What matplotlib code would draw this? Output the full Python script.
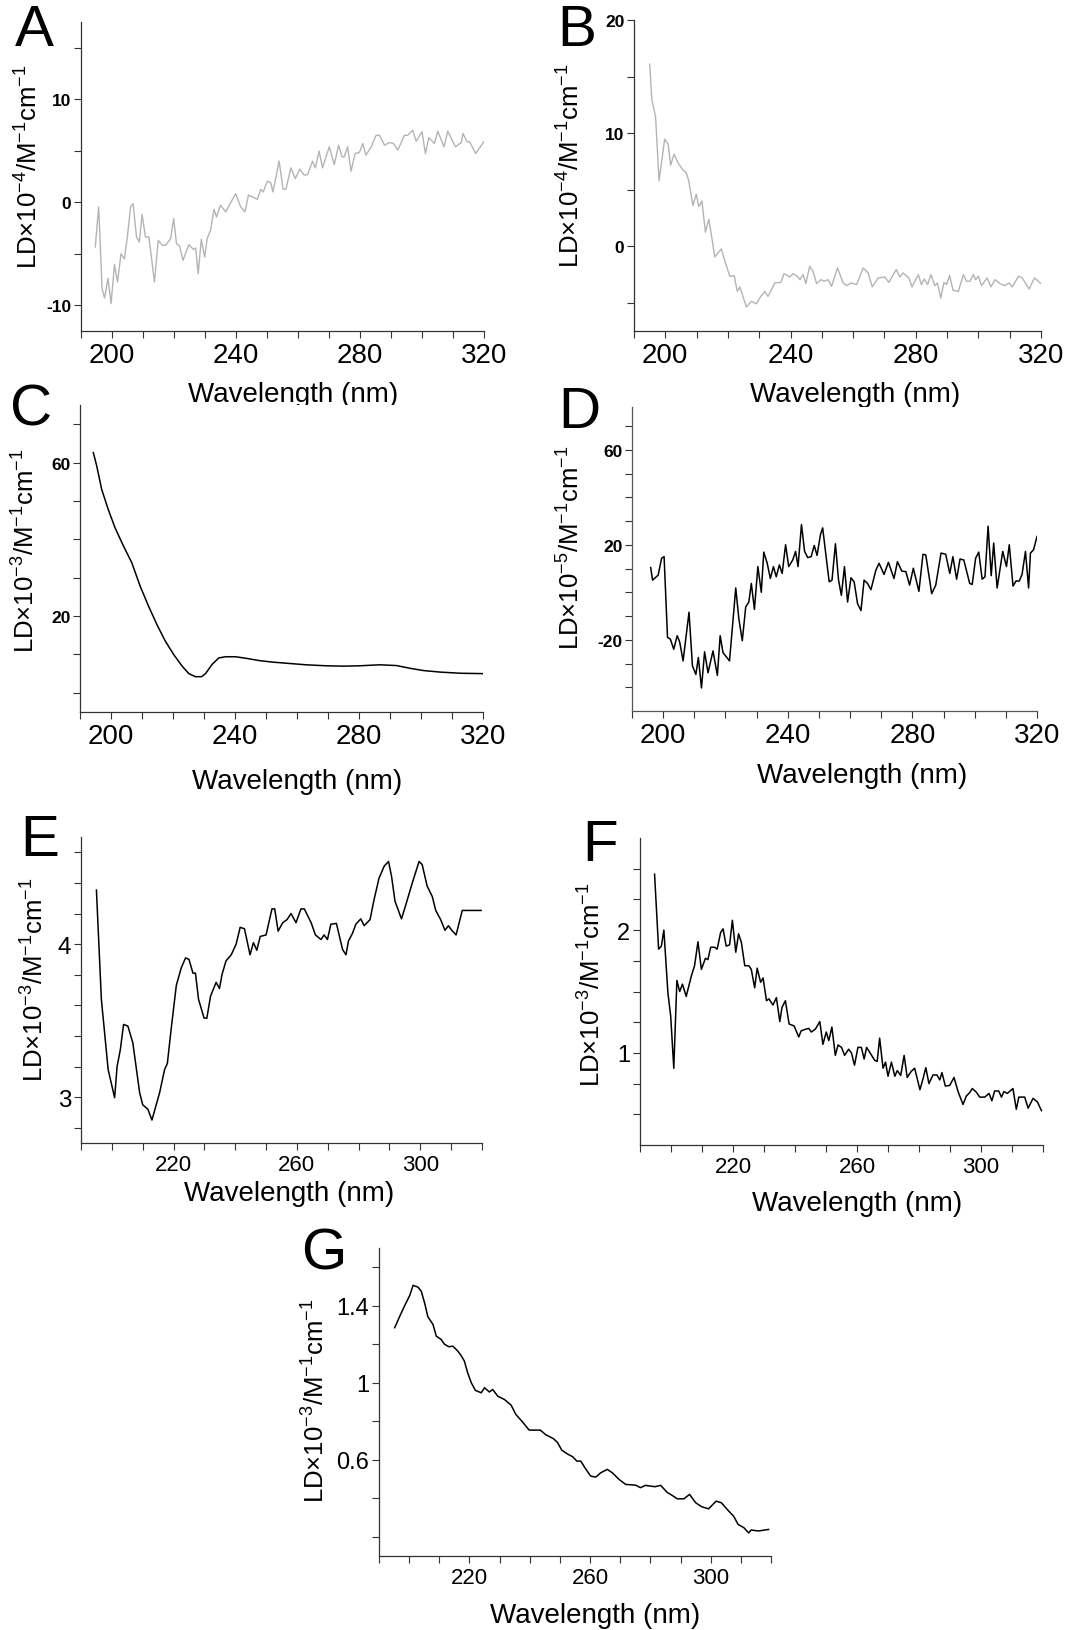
import matplotlib
matplotlib.use("Agg")
import matplotlib.pyplot as plt
from matplotlib.ticker import FixedLocator, FixedFormatter

plt.rcParams['font.family'] = ['Liberation Sans', 'DejaVu Sans']
plt.rcParams['mathtext.fontset'] = 'custom'
plt.rcParams['mathtext.rm'] = 'Liberation Sans'
plt.rcParams['mathtext.it'] = 'Liberation Sans'
plt.rcParams['mathtext.default'] = 'regular'

# ---------------- data ----------------
wl_A = [194.6, 195.7, 196.8, 197.6, 198.7, 199.7, 200.8, 201.8, 202.9, 204.0, 204.9, 206.0, 206.8, 207.9,
        208.8, 209.7, 210.8, 211.9, 213.7, 214.9, 216.2, 217.3, 218.9, 219.9, 220.8, 221.8, 222.9, 224.8,
        226.2, 227.0, 227.8, 228.8, 229.9, 230.7, 231.8, 232.9, 233.7, 235.0, 236.7, 238.3, 239.9, 241.5,
        242.9, 244.0, 245.3, 246.9, 248.0, 248.8, 250.1, 251.2, 251.9, 252.8, 253.9, 255.2, 256.1, 257.7,
        259.1, 260.6, 262.0, 263.1, 264.7, 265.6, 266.8, 267.9, 270.1, 271.7, 273.1, 274.2, 274.9, 276.0,
        277.1, 278.4, 279.8, 280.9, 281.9, 283.6, 285.2, 286.3, 287.9, 289.5, 290.8, 292.2, 294.3, 295.4,
        297.0, 298.1, 300.0, 301.1, 302.2, 304.0, 305.1, 307.1, 308.3, 310.8, 312.7, 313.2, 314.6, 315.4,
        317.3, 319.9]
ld_A = [-4.34, -0.45, -8.4, -9.3, -7.4, -9.85, -6.06, -7.75, -5.0, -5.5, -3.5, -0.45, -0.13, -3.37,
        -3.86, -1.2, -3.37, -3.37, -7.75, -3.7, -4.18, -4.18, -3.53, -1.59, -4.02, -4.25, -5.64, -4.12,
        -4.57, -4.44, -6.94, -3.6, -5.32, -3.53, -2.72, -0.68, -1.43, -0.29, -0.94, -0.03, 0.84, -0.45,
        -0.94, 0.68, 0.52, 0.29, 1.26, 1.0, 2.04, 1.91, 1.0, 2.3, 4.0, 1.26, 1.26, 3.34,
        2.3, 3.2, 2.63, 2.69, 3.99, 3.34, 4.96, 3.34, 5.38, 3.66, 5.54, 4.41, 4.41, 5.38,
        3.01, 4.73, 4.83, 5.7, 4.57, 5.38, 6.5, 6.5, 5.54, 5.8, 5.7, 5.06, 6.5, 6.5,
        7.0, 5.93, 6.84, 4.73, 6.26, 5.7, 6.9, 5.38, 6.9, 5.38, 5.8, 6.68, 5.86, 5.86,
        4.73, 5.86]

wl_B = [195.0, 195.7, 196.9, 198.0, 199.8, 200.9, 201.7, 202.8, 204.0, 205.6, 206.7, 207.5, 208.8, 209.9,
        210.7, 211.7, 212.8, 213.9, 214.7, 215.8, 217.9, 219.2, 220.6, 222.0, 223.0, 223.8, 225.9, 227.5,
        229.1, 230.5, 231.8, 232.8, 235.0, 236.9, 237.9, 239.8, 240.8, 242.2, 243.0, 244.0, 244.9, 246.1,
        247.2, 248.3, 249.7, 250.7, 252.0, 253.1, 255.0, 256.8, 257.9, 259.3, 261.1, 263.2, 264.8, 266.1,
        268.0, 270.1, 271.4, 272.8, 273.8, 274.9, 276.0, 277.8, 278.8, 280.8, 281.8, 282.7, 283.8, 284.8,
        286.1, 286.9, 288.0, 289.0, 289.8, 290.8, 291.9, 293.6, 295.2, 296.2, 297.3, 298.4, 299.1, 300.0,
        301.0, 302.8, 304.0, 305.3, 306.9, 308.5, 309.8, 310.8, 312.8, 314.0, 316.2, 317.9, 320.0]
ld_B = [16.1, 13.0, 11.4, 5.77, 9.47, 9.02, 7.16, 8.14, 7.4, 6.75, 6.5, 5.77, 3.6, 4.59,
        3.49, 4.0, 1.24, 2.37, 1.04, -0.95, -0.24, -1.48, -2.66, -2.6, -4.0, -3.6, -5.38, -4.88,
        -5.09, -4.44, -4.0, -4.44, -3.25, -3.2, -2.43, -2.72, -2.43, -2.66, -2.96, -2.51, -3.31, -1.78,
        -2.22, -3.31, -2.96, -3.1, -2.96, -3.55, -1.92, -3.25, -3.49, -3.25, -3.4, -1.92, -2.37, -3.6,
        -2.81, -2.72, -3.2, -2.51, -2.07, -2.72, -2.37, -2.81, -3.6, -2.51, -3.4, -2.9, -3.4, -2.51,
        -3.49, -3.25, -4.59, -3.2, -3.4, -2.6, -3.9, -4.0, -2.51, -3.1, -3.1, -2.51, -2.96, -2.66,
        -3.49, -2.81, -3.6, -2.96, -3.31, -3.49, -3.25, -3.6, -2.66, -2.81, -3.79, -2.81, -3.31]

wl_C = [194.3, 195.4, 197.0, 199.1, 201.3, 204.0, 206.7, 209.4, 212.1, 214.8, 217.5, 220.2, 222.9, 225.1,
        227.2, 229.2, 230.5, 232.6, 234.8, 237.0, 240.2, 243.5, 247.8, 252.1, 257.5, 262.9, 269.4, 274.8,
        280.2, 286.7, 292.1, 296.4, 300.8, 306.2, 312.6, 320.0]
ld_C = [62.6, 59.1, 53.0, 47.8, 43.0, 38.3, 33.9, 27.8, 22.6, 17.8, 13.5, 10.0, 7.0, 5.0,
        4.2, 4.2, 5.0, 7.4, 9.1, 9.4, 9.4, 9.0, 8.4, 8.0, 7.65, 7.3, 7.04, 6.95,
        7.04, 7.3, 7.1, 6.4, 5.8, 5.4, 5.1, 5.0]

wl_D = [196.0, 196.6, 198.4, 199.5, 200.3, 201.4, 202.3, 203.4, 204.5, 205.3, 206.4, 208.3, 209.4, 210.5,
        211.3, 212.3, 213.3, 214.4, 216.0, 217.4, 218.3, 219.2, 221.3, 222.6, 223.3, 224.3, 225.4, 226.5,
        227.5, 228.3, 229.3, 230.4, 231.5, 232.3, 233.4, 234.4, 235.4, 236.3, 237.3, 238.2, 239.3, 240.3,
        241.6, 242.5, 243.3, 244.4, 245.4, 246.4, 247.5, 248.5, 249.4, 250.5, 251.2, 252.5, 253.3, 254.2,
        255.3, 256.3, 257.2, 258.2, 259.2, 260.3, 261.3, 262.4, 263.5, 264.5, 265.6, 266.7, 268.3, 269.3,
        270.9, 272.3, 274.1, 275.2, 276.6, 277.9, 279.1, 280.3, 282.1, 283.4, 284.3, 286.2, 287.5, 289.2,
        290.7, 292.0, 293.0, 294.2, 295.3, 296.5, 298.4, 299.2, 300.3, 301.3, 302.4, 303.3, 304.3, 305.3,
        306.1, 307.2, 309.0, 310.2, 311.1, 312.3, 313.3, 314.3, 315.2, 316.3, 317.3, 317.9, 318.9, 320.0]
ld_D = [10.4, 5.1, 7.2, 14.3, 15.0, -19.0, -19.7, -24.0, -18.3, -20.9, -28.9, -8.4, -31.0, -34.6,
        -27.5, -40.3, -25.1, -33.9, -24.7, -35.0, -18.3, -25.4, -28.9, -9.1, 1.8, -11.2, -20.4, -6.2,
        -4.1, 3.7, -7.2, 10.8, 0.0, 16.9, 12.2, 5.8, 10.8, 6.5, 11.5, 7.9, 20.0, 10.8,
        13.6, 17.2, 10.8, 28.5, 17.2, 14.6, 15.0, 19.7, 15.5, 24.3, 27.1, 12.9, 4.4, 5.1,
        20.4, 5.1, -1.3, 10.8, -4.1, 6.1, 4.4, -4.8, -7.7, 5.1, 3.7, 1.1, 9.4, 12.2,
        7.5, 12.6, 5.8, 12.9, 8.9, 8.7, 3.0, 10.1, 0.4, 16.0, 15.7, -0.6, 3.0, 16.5,
        16.0, 7.9, 15.0, 5.5, 14.0, 13.6, 3.7, 3.3, 14.3, 16.9, 5.5, 6.5, 27.8, 7.0,
        20.7, 1.8, 17.2, 10.8, 20.0, 2.6, 4.8, 4.7, 7.5, 17.2, 1.8, 16.5, 17.9, 23.5]

wl_E = [195.0, 196.6, 198.8, 200.9, 201.7, 202.75, 203.8, 205.2, 206.8, 209.0, 210.0, 211.7, 213.0, 215.5,
        217.1, 218.0, 219.2, 220.9, 222.5, 223.9, 225.0, 226.3, 227.1, 228.1, 229.9, 230.8, 232.0, 233.8,
        234.9, 235.7, 237.0, 238.7, 240.3, 241.6, 243.0, 244.8, 245.9, 247.0, 248.1, 250.0, 251.9, 252.8,
        253.9, 255.4, 256.8, 258.1, 259.7, 261.3, 262.4, 264.6, 266.0, 267.8, 268.8, 269.9, 271.0, 272.8,
        274.8, 275.9, 276.7, 278.0, 279.1, 280.7, 281.8, 283.7, 285.0, 286.6, 288.3, 289.7, 290.7, 291.8,
        293.9, 295.2, 297.4, 299.6, 300.6, 302.2, 303.9, 305.0, 306.6, 308.0, 309.1, 310.2, 311.6, 313.6,
        314.7, 319.7]
ld_E = [4.353, 3.64, 3.18, 2.996, 3.2, 3.31, 3.475, 3.464, 3.355, 3.03, 2.95, 2.92, 2.85, 3.03,
        3.18, 3.22, 3.44, 3.73, 3.845, 3.91, 3.90, 3.81, 3.81, 3.64, 3.516, 3.516, 3.66, 3.75,
        3.71, 3.80, 3.89, 3.93, 4.0, 4.11, 4.10, 3.93, 4.01, 3.96, 4.05, 4.06, 4.23, 4.23,
        4.085, 4.14, 4.16, 4.20, 4.14, 4.23, 4.23, 4.14, 4.06, 4.03, 4.06, 4.03, 4.13, 4.135,
        3.965, 3.93, 4.02, 4.07, 4.13, 4.165, 4.12, 4.16, 4.29, 4.43, 4.51, 4.54, 4.44, 4.28,
        4.165, 4.25, 4.40, 4.54, 4.52, 4.38, 4.31, 4.22, 4.16, 4.09, 4.12, 4.09, 4.06, 4.22,
        4.22, 4.22]

wl_F = [194.7, 196.0, 196.9, 197.7, 199.0, 199.9, 200.9, 201.9, 202.8, 203.7, 204.9, 206.6, 207.6, 208.7,
        209.8, 211.1, 211.9, 212.8, 214.1, 214.9, 216.0, 216.8, 217.8, 218.9, 219.8, 220.9, 221.8, 222.7,
        223.8, 225.1, 225.9, 227.0, 227.8, 228.9, 229.7, 230.8, 231.6, 232.9, 234.0, 235.1, 235.8, 236.9,
        238.1, 239.7, 241.2, 242.0, 243.1, 244.4, 245.3, 246.6, 248.0, 249.0, 250.1, 250.9, 251.9, 253.0,
        253.9, 255.0, 256.0, 257.3, 258.2, 259.2, 260.3, 261.4, 262.3, 263.1, 264.1, 265.7, 266.5, 267.3,
        268.4, 269.2, 270.0, 271.1, 272.2, 273.0, 274.1, 275.2, 276.2, 277.5, 278.6, 280.3, 281.3, 282.2,
        283.2, 284.5, 285.8, 286.7, 287.4, 288.5, 289.9, 291.3, 292.6, 294.2, 295.3, 296.3, 297.2, 298.5,
        299.6, 301.2, 302.6, 303.5, 304.4, 305.7, 306.6, 307.4, 308.5, 310.3, 311.4, 312.2, 314.1, 315.2,
        316.8, 318.2, 319.5]
ld_F = [2.455, 1.845, 1.87, 2.0, 1.49, 1.30, 0.875, 1.59, 1.50, 1.56, 1.46, 1.63, 1.71, 1.905,
        1.68, 1.77, 1.76, 1.86, 1.86, 1.845, 1.98, 2.01, 1.87, 1.88, 2.08, 1.82, 1.97, 1.90,
        1.71, 1.71, 1.68, 1.53, 1.69, 1.575, 1.61, 1.425, 1.44, 1.39, 1.45, 1.255, 1.37, 1.425,
        1.235, 1.22, 1.13, 1.18, 1.19, 1.20, 1.17, 1.195, 1.255, 1.07, 1.17, 1.10, 1.21, 0.98,
        1.065, 1.045, 0.98, 1.03, 1.0, 0.90, 1.045, 1.045, 0.95, 1.045, 1.005, 0.94, 0.93, 1.12,
        0.875, 0.925, 0.81, 0.925, 0.81, 0.856, 0.816, 0.98, 0.80, 0.85, 0.875, 0.70, 0.79, 0.88,
        0.75, 0.82, 0.82, 0.78, 0.84, 0.73, 0.735, 0.80, 0.685, 0.58, 0.65, 0.675, 0.71, 0.68,
        0.64, 0.64, 0.67, 0.61, 0.69, 0.69, 0.64, 0.685, 0.67, 0.71, 0.54, 0.64, 0.64, 0.55,
        0.63, 0.60, 0.53]

wl_G = [195.2, 196.9, 198.5, 200.2, 201.3, 202.9, 204.0, 205.1, 206.2, 207.9, 209.0, 210.6, 211.7, 213.2,
        214.5, 216.1, 217.2, 218.3, 219.4, 220.6, 222.0, 223.9, 225.0, 226.6, 227.7, 229.4, 231.6, 233.8,
        235.4, 237.4, 239.8, 241.5, 243.5, 245.3, 247.8, 249.2, 250.6, 252.5, 254.2, 255.6, 256.9, 258.3,
        260.2, 261.9, 263.5, 265.7, 267.4, 269.6, 271.8, 275.1, 276.7, 278.4, 280.1, 281.5, 283.4, 285.6,
        287.2, 288.9, 291.1, 293.0, 295.0, 297.0, 299.3, 301.8, 303.5, 306.0, 307.6, 309.1, 311.0, 312.6,
        313.4, 315.9, 319.2]
ld_G = [1.286, 1.346, 1.40, 1.454, 1.506, 1.497, 1.476, 1.416, 1.343, 1.303, 1.242, 1.225, 1.20, 1.187,
        1.19, 1.165, 1.142, 1.113, 1.052, 1.0, 0.96, 0.948, 0.974, 0.952, 0.965, 0.93, 0.913, 0.884,
        0.835, 0.80, 0.754, 0.754, 0.754, 0.73, 0.71, 0.69, 0.65, 0.63, 0.616, 0.593, 0.593, 0.558,
        0.515, 0.51, 0.532, 0.55, 0.532, 0.498, 0.472, 0.468, 0.455, 0.467, 0.463, 0.46, 0.467, 0.43,
        0.415, 0.397, 0.397, 0.42, 0.377, 0.356, 0.345, 0.385, 0.377, 0.333, 0.307, 0.264, 0.247, 0.22,
        0.235, 0.23, 0.238]

ylabel_A = "LD×10$^{-4}$/M$^{-1}$cm$^{-1}$"
ylabel_B = "LD×10$^{-4}$/M$^{-1}$cm$^{-1}$"
ylabel_C = "LD×10$^{-3}$/M$^{-1}$cm$^{-1}$"
ylabel_D = "LD×10$^{-5}$/M$^{-1}$cm$^{-1}$"
ylabel_EFG = "LD×10$^{-3}$/M$^{-1}$cm$^{-1}$"
xlabel = "Wavelength (nm)"

# ---------------- figure ----------------
W, H = 1085, 1631
fig = plt.figure(figsize=(W / 100, H / 100), dpi=100)


def make_axes(l, r, t, b):
    return fig.add_axes([l / W, 1 - b / H, (r - l) / W, (b - t) / H])


def style(ax, xmaj, xmin, ymaj, ymaj_lbl, ymin, xsize, ysize, ybold):
    for s in ['top', 'right']:
        ax.spines[s].set_visible(False)
    for s in ['left', 'bottom']:
        ax.spines[s].set_linewidth(0.9)
        ax.spines[s].set_color('#333333')
    ax.xaxis.set_major_locator(FixedLocator(xmaj))
    ax.xaxis.set_minor_locator(FixedLocator(xmin))
    ax.yaxis.set_major_locator(FixedLocator(ymaj))
    ax.yaxis.set_major_formatter(FixedFormatter(ymaj_lbl))
    ax.yaxis.set_minor_locator(FixedLocator(ymin))
    ax.tick_params(which='both', direction='out', length=5, width=0.8, color='#333333')
    ax.tick_params(axis='x', labelsize=xsize, pad=3)
    ax.tick_params(axis='y', labelsize=ysize, pad=2)
    if ybold:
        for lab in ax.get_yticklabels():
            lab.set_fontweight('bold')


def labels(ax, ylab, ypos, xpos):
    ax.set_ylabel(ylab, fontsize=18.5, va='center', ha='center')
    ax.yaxis.set_label_coords(*ypos)
    ax.set_xlabel(xlabel, fontsize=20, va='center', ha='center')
    ax.xaxis.set_label_coords(*xpos)


xmin_all = list(range(190, 330, 10))

# A
axA = make_axes(81, 484, 23, 332)
axA.plot(wl_A, ld_A, color='#b4b4b4', lw=1.0)
axA.set_xlim(190, 320)
axA.set_ylim(-12.5, 17.5)
style(axA, [200, 240, 280, 320], xmin_all, [-10, 0, 10], ['-10', '0', '10'], [-5, 5, 15], 20, 12.5, True)
labels(axA, ylabel_A, (-0.13, 0.534), (0.526, -0.204))

# B
axB = make_axes(634, 1041, 21, 332)
axB.plot(wl_B, ld_B, color='#b4b4b4', lw=1.0)
axB.set_xlim(190, 320)
axB.set_ylim(-7.5, 20)
style(axB, [200, 240, 280, 320], xmin_all, [0, 10, 20], ['0', '10', '20'], [-5, 5, 15], 20, 12.5, True)
labels(axB, ylabel_B, (-0.155, 0.534), (0.543, -0.203))

# C
axC = make_axes(80, 483, 406, 713)
axC.plot(wl_C, ld_C, color='black', lw=1.1)
axC.set_xlim(190, 320)
axC.set_ylim(-5, 75)
style(axC, [200, 240, 280, 320], xmin_all, [20, 60], ['20', '60'], [0, 10, 30, 40, 50, 70], 20, 12.5, True)
labels(axC, ylabel_C, (-0.135, 0.528), (0.538, -0.225))

# D
axD = make_axes(632, 1037, 408, 712)
axD.plot(wl_D, ld_D, color='black', lw=1.1)
axD.set_xlim(190, 320)
axD.set_ylim(-50, 78)
style(axD, [200, 240, 280, 320], xmin_all, [-20, 20, 60], ['-20', '20', '60'],
      [-40, -30, -10, 0, 10, 30, 40, 50, 70], 20, 12.5, True)
for s in ['left', 'bottom']:
    axD.spines[s].set_linestyle((0, (1.5, 1)))
    axD.spines[s].set_color('#555555')
labels(axD, ylabel_D, (-0.15, 0.54), (0.568, -0.21))

# E
axE = make_axes(81, 482, 838, 1144)
axE.plot(wl_E, ld_E, color='black', lw=1.1)
axE.set_xlim(190, 320)
axE.set_ylim(2.7, 4.7)
style(axE, [220, 260, 300], xmin_all, [3, 4], ['3', '4'],
      [2.8, 3.2, 3.4, 3.6, 3.8, 4.2, 4.4, 4.6], 16, 17.5, False)
labels(axE, ylabel_EFG, (-0.115, 0.536), (0.519, -0.163))

# F
axF = make_axes(640, 1043, 839, 1146)
axF.plot(wl_F, ld_F, color='black', lw=1.1)
axF.set_xlim(190, 320)
axF.set_ylim(0.25, 2.75)
style(axF, [220, 260, 300], xmin_all, [1, 2], ['1', '2'],
      [0.5, 0.75, 1.25, 1.5, 1.75, 2.25, 2.5], 16, 17, False)
labels(axF, ylabel_EFG, (-0.12, 0.524), (0.538, -0.189))

# G
axG = make_axes(379, 771, 1249, 1557)
axG.plot(wl_G, ld_G, color='black', lw=1.1)
axG.set_xlim(190, 320)
axG.set_ylim(0.1, 1.7)
style(axG, [220, 260, 300], xmin_all, [0.6, 1.0, 1.4], ['0.6', '1', '1.4'],
      [0.2, 0.4, 0.8, 1.2, 1.6], 16, 17, False)
labels(axG, ylabel_EFG, (-0.16, 0.506), (0.551, -0.192))

# panel letters
letters = [('A', 15, 15), ('B', 557, 15), ('C', 10, 395), ('D', 558, 397),
           ('E', 20, 825), ('F', 582, 830), ('G', 301, 1238)]
for ch, x, y in letters:
    fig.text(x / W, 1 - (y - 11) / H, ch, fontsize=42, ha='left', va='top')

fig.savefig('out.png', dpi=100)
